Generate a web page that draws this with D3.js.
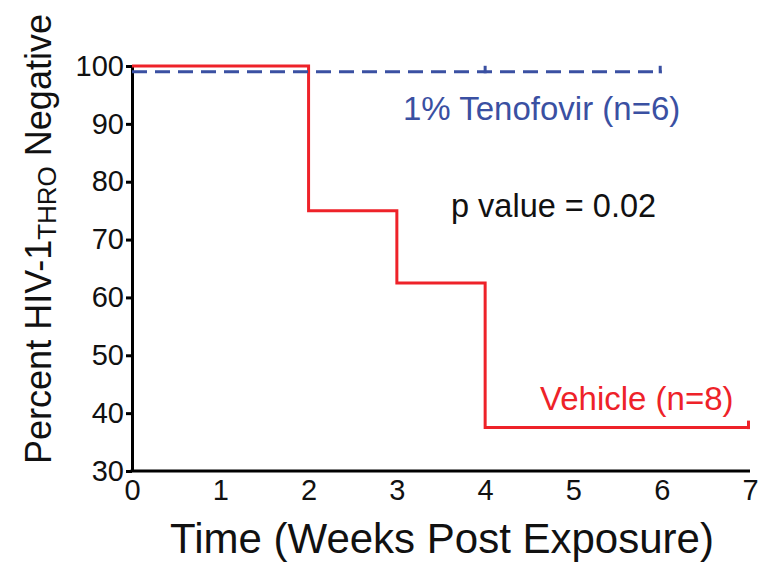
<!DOCTYPE html>
<html>
<head>
<meta charset="utf-8">
<script src="https://cdn.jsdelivr.net/npm/d3@7"></script>
<style>
  html, body { margin: 0; padding: 0; background: #fff; }
  svg { display: block; font-family: "Liberation Sans", Arial, sans-serif; }
</style>
</head>
<body>
<svg id="chart" width="758" height="567"></svg>
<script>
// Kaplan-Meier style survival data (percent remaining HIV-1 negative)
const vehicleTimes = [0, 2, 3, 4, 7];
const vehicleValues = [100, 75, 62.5, 37.5, 37.5];
const vehicleCensor = [7];

const tenofovirTimes = [0, 6];
const tenofovirValues = [99, 99];
const tenofovirCensor = [4, 6];

const xTicks = [0, 1, 2, 3, 4, 5, 6, 7];
const yTicks = [30, 40, 50, 60, 70, 80, 90, 100];

const red = "#ee2229";
const blue = "#3a50a2";

const svg = d3.select("#chart");
const x = d3.scaleLinear().domain([0, 7]).range([132, 750]);
const y = d3.scaleLinear().domain([30, 100]).range([471, 66]);

// Y axis with outward ticks
const yAxis = svg.append("g")
  .attr("transform", `translate(${x(0)},0)`)
  .call(d3.axisLeft(y).tickValues(yTicks).tickFormat(d3.format("d"))
    .tickSize(6).tickPadding(2).tickSizeOuter(0));
yAxis.select(".domain").attr("stroke", "#000").attr("stroke-width", 3);
yAxis.selectAll(".tick line").attr("stroke", "#000").attr("stroke-width", 3);
yAxis.selectAll(".tick text").attr("font-size", 29).attr("fill", "#111")
  .attr("font-family", "Liberation Sans, Arial, sans-serif");

// X axis, labels only
const xAxis = svg.append("g")
  .attr("transform", `translate(0,${y(30)})`)
  .call(d3.axisBottom(x).tickValues(xTicks).tickFormat(d3.format("d"))
    .tickSize(0).tickPadding(8).tickSizeOuter(0));
xAxis.select(".domain").attr("stroke", "#000").attr("stroke-width", 3)
  .attr("d", `M${x(0) - 1.5},0H${x(7)}`);
xAxis.selectAll(".tick text").attr("font-size", 29).attr("fill", "#111")
  .attr("font-family", "Liberation Sans, Arial, sans-serif");

const line = d3.line()
  .x(d => x(d[0]))
  .y(d => y(d[1]))
  .curve(d3.curveStepAfter);

// Vehicle curve
svg.append("path")
  .datum(d3.zip(vehicleTimes, vehicleValues))
  .attr("d", line)
  .attr("fill", "none")
  .attr("stroke", red)
  .attr("stroke-width", 3);

// Tenofovir curve
svg.append("path")
  .datum(d3.zip(tenofovirTimes, tenofovirValues))
  .attr("d", line)
  .attr("fill", "none")
  .attr("stroke", blue)
  .attr("stroke-width", 3)
  .attr("stroke-dasharray", "15,8");

// Censor marks
const survAt = (times, vals, t) => vals[d3.bisectRight(times, t) - 1];
svg.append("g").selectAll("line")
  .data(tenofovirCensor)
  .join("line")
  .attr("x1", d => x(d) - (d === 6 ? 1.5 : 0))
  .attr("x2", d => x(d) - (d === 6 ? 1.5 : 0))
  .attr("y1", d => y(survAt(tenofovirTimes, tenofovirValues, d)) + 1.5)
  .attr("y2", d => y(survAt(tenofovirTimes, tenofovirValues, d)) - 6)
  .attr("stroke", blue)
  .attr("stroke-width", 3);
svg.append("g").selectAll("line")
  .data(vehicleCensor)
  .join("line")
  .attr("x1", d => x(d) - 1.5)
  .attr("x2", d => x(d) - 1.5)
  .attr("y1", d => y(survAt(vehicleTimes, vehicleValues, d)) + 1.5)
  .attr("y2", d => y(survAt(vehicleTimes, vehicleValues, d)) - 7)
  .attr("stroke", red)
  .attr("stroke-width", 3);

// Annotations
svg.append("text").attr("x", 403).attr("y", 120)
  .attr("font-size", 33).attr("fill", blue).text("1% Tenofovir (n=6)");
svg.append("text").attr("x", 451).attr("y", 217)
  .attr("font-size", 32.5).attr("fill", "#111").text("p value = 0.02");
svg.append("text").attr("x", 540).attr("y", 410)
  .attr("font-size", 33).attr("fill", red).text("Vehicle (n=8)");

// Axis titles
svg.append("text").attr("x", 442).attr("y", 553)
  .attr("text-anchor", "middle").attr("font-size", 42).attr("fill", "#111")
  .text("Time (Weeks Post Exposure)");

const yTitle = svg.append("text")
  .attr("transform", "translate(51,239) rotate(-90)")
  .attr("text-anchor", "middle").attr("font-size", 36).attr("fill", "#111");
yTitle.append("tspan").text("Percent HIV-1");
yTitle.append("tspan").attr("font-size", 26).attr("dy", 5).text("THRO");
yTitle.append("tspan").attr("dy", -5).text(" Negative");
</script>
</body>
</html>
